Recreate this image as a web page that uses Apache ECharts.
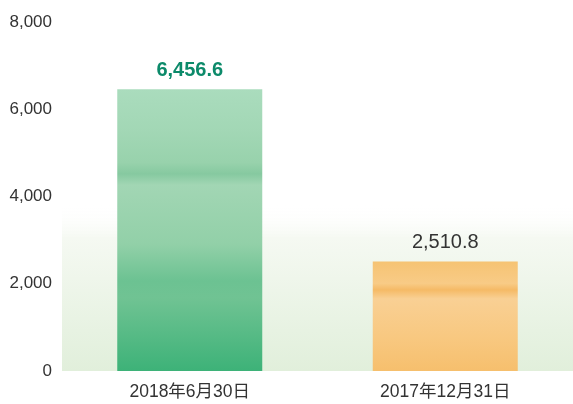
<!DOCTYPE html>
<html><head><meta charset="utf-8">
<script src="https://cdn.jsdelivr.net/npm/echarts@6/dist/echarts.min.js"></script>
<style>html,body{margin:0;padding:0;background:#fff}#c{width:573px;height:404px}</style>
</head><body><div id="c"></div>
<script>
const categories = ['2018年6月30日', '2017年12月31日'];
const values = [6456.6, 2510.8];
const valueLabels = ['6,456.6', '2,510.8'];
const yTicks = [0, 2000, 4000, 6000, 8000];

const G = echarts.graphic;
const greenFill = new G.LinearGradient(0, 0, 0, 1, [
  {offset: 0, color: '#aadcbd'},
  {offset: 0.15, color: '#a2d7b5'},
  {offset: 0.26, color: '#98d2ac'},
  {offset: 0.3, color: '#86c9a0'},
  {offset: 0.34, color: '#a2d6b4'},
  {offset: 0.55, color: '#92d0a8'},
  {offset: 0.68, color: '#6cc292'},
  {offset: 0.74, color: '#70c393'},
  {offset: 1, color: '#3db278'}
]);
const orangeFill = new G.LinearGradient(0, 0, 0, 1, [
  {offset: 0, color: '#f6c373'},
  {offset: 0.2, color: '#f8cb86'},
  {offset: 0.26, color: '#f5ba66'},
  {offset: 0.34, color: '#f9d094'},
  {offset: 0.7, color: '#f8c880'},
  {offset: 1, color: '#f6bf6d'}
]);
const fills = [greenFill, orangeFill];
const labelStyles = [
  {color: '#0c8a6a', fontWeight: 'bold', fontSize: 20},
  {color: '#333333', fontWeight: 'normal', fontSize: 20}
];

const chart = echarts.init(document.getElementById('c'), null, {renderer: 'canvas'});
chart.setOption({
  animation: false,
  textStyle: {fontFamily: 'Liberation Sans, "Noto Sans CJK SC", sans-serif'},
  grid: {
    left: 62, right: -3, top: 22, bottom: 33,
    show: true, borderWidth: 0,
    backgroundColor: new G.LinearGradient(0, 0, 0, 1, [
      {offset: 0, color: 'rgba(255,255,255,0)'},
      {offset: 0.52, color: 'rgba(255,255,255,0)'},
      {offset: 0.62, color: '#f5f9f2'},
      {offset: 1, color: '#e1efdb'}
    ])
  },
  xAxis: {
    type: 'category', data: categories,
    axisLine: {show: false}, axisTick: {show: false},
    axisLabel: {color: '#333', fontSize: 17.5, margin: 12,
      fontFamily: 'Liberation Sans, "Noto Sans CJK SC", sans-serif'}
  },
  yAxis: {
    type: 'value', min: 0, max: 8000, interval: 2000,
    axisLine: {show: false}, axisTick: {show: false},
    splitLine: {show: false},
    axisLabel: {color: '#333', fontSize: 17, margin: 10,
      formatter: v => yTicks.includes(v) ? v.toLocaleString('en-US') : ''}
  },
  series: [{
    type: 'bar', barWidth: 145,
    data: values.map((v, i) => ({
      value: v,
      itemStyle: {color: fills[i]},
      label: Object.assign({show: true, position: 'top', distance: 9,
        formatter: () => valueLabels[i]}, labelStyles[i])
    }))
  }]
});
</script></body></html>
